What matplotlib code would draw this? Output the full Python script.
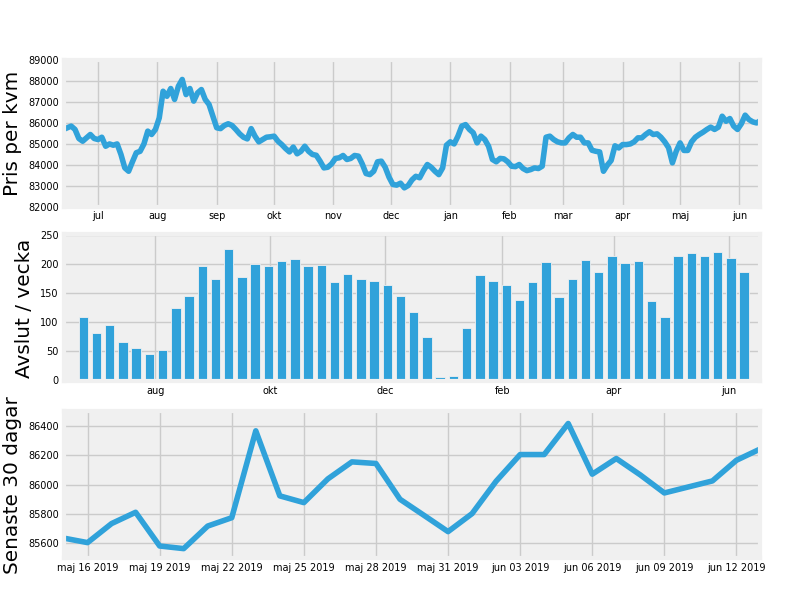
import matplotlib
matplotlib.use("Agg")
import matplotlib.pyplot as plt
import matplotlib.dates as mdates
from matplotlib.ticker import FuncFormatter
import pandas as pd

# Svenska månadsnamn för axlarna
SV_MONTHS = ["jan", "feb", "mar", "apr", "maj", "jun",
             "jul", "aug", "sep", "okt", "nov", "dec"]

# Pris per kvm, var annan dag från 2018-06-13
price_start = "2018-06-13"
price_values = [
    85670, 85750, 85830, 85670, 85240, 85110, 85270, 85430, 85240, 85190,
    85300, 84870, 84980, 84920, 84980, 84480, 83840, 83680, 84130, 84560,
    84630, 84980, 85590, 85430, 85670, 86220, 87490, 87250, 87620, 87100,
    87730,
    88050, 87330, 87620, 87020, 87410, 87570, 87100, 86860, 86300, 85750,
    85710, 85860, 85940, 85860, 85670, 85460, 85300, 85220, 85710, 85350,
    85080, 85190, 85300, 85320, 85350, 85110, 84950, 84760, 84600, 84830,
    84510,
    84630, 84870, 84630, 84480, 84440, 84160, 83840, 83870, 84030, 84290,
    84320, 84430, 84240, 84290, 84430, 84400, 84030, 83570, 83520, 83680,
    84130, 84160, 83870, 83400, 83050, 83020, 83110, 82890, 83000, 83270,
    83440,
    83370, 83710, 84000, 83870, 83680, 83520, 83840, 84920, 85080, 84980,
    85350, 85830, 85900, 85670, 85510, 85030, 85350, 85190, 84870, 84240,
    84130, 84290, 84270, 84130, 83920, 83900, 84000, 83810, 83710, 83760,
    83840, 83810, 83920, 85300, 85350, 85190, 85080, 85030, 85030, 85270,
    85430, 85300, 85300, 85030, 85030, 84680, 84630, 84600, 83680, 83970,
    84190, 84890, 84790, 84950, 84950, 84980, 85080, 85270, 85270, 85430,
    85560,
    85430, 85460, 85300, 85080, 84800, 84080, 84630, 85030, 84670, 84670,
    85080, 85300, 85430, 85540, 85670, 85780, 85670, 85780, 86300, 86060,
    86190, 85830, 85670, 85940, 86350, 86140, 86030, 85980, 86100,
]

# Avslut per vecka (veckoslut söndag) från 2018-06-24
week_start = "2018-06-24"
week_counts = [
    108, 80, 95, 65, 55, 44, 52, 124, 144, 197,
    173, 225, 178, 200, 196, 205, 208, 196, 198, 168,
    182, 173, 171, 163, 144, 117, 74, 5, 7, 90,
    180, 171, 163, 138, 168, 203, 142, 173, 207, 185,
    213, 201, 205, 135, 109, 213, 219, 214, 220, 210, 185,
]

# Senaste 30 dagar, daglig
last30_start = "2019-05-15"
last30_values = [
    85636, 85605, 85735, 85812, 85582, 85564, 85718, 85775, 86368, 85924,
    85878, 86040, 86156, 86145, 85901, 85791, 85680, 85803, 86024, 86206,
    86206, 86418, 86072, 86179, 86067, 85944, 85985, 86026, 86167, 86245,
]

BLUE = "#30a2da"


def month_fmt(x, pos=None):
    return SV_MONTHS[mdates.num2date(x).month - 1]


def day_fmt(x, pos=None):
    d = mdates.num2date(x)
    return f"{SV_MONTHS[d.month - 1]} {d.day:02d} {d.year}"


plt.style.use("fivethirtyeight")
plt.rcParams["font.family"] = ["DejaVu Sans"]

fig = plt.figure(figsize=(8, 6), dpi=100, facecolor="white")
ax1 = fig.add_axes([0.0794, 0.6558, 0.8712, 0.245])
ax2 = fig.add_axes([0.0794, 0.3642, 0.8712, 0.245])
ax3 = fig.add_axes([0.0794, 0.07, 0.8712, 0.2442])

# --- pris per kvm
p_dates = pd.date_range(price_start, periods=len(price_values), freq="2D")
ax1.plot(p_dates, price_values, color=BLUE, linewidth=4)
ax1.set_xlim(p_dates[0], p_dates[-1])
ax1.set_ylim(82000, 89000)
ax1.set_yticks(range(82000, 89001, 1000))
ax1.xaxis.set_major_locator(mdates.MonthLocator())
ax1.xaxis.set_major_formatter(FuncFormatter(month_fmt))
ax1.set_ylabel("Pris per kvm", fontsize=14.4)

# --- avslut per vecka
w_dates = pd.date_range(week_start, periods=len(week_counts), freq="7D")
ax2.bar(w_dates, week_counts, width=5, color=BLUE,
        edgecolor="#f0f0f0", linewidth=0.6)
ax2.set_xlim(pd.Timestamp("2018-06-13 12:00"), pd.Timestamp("2019-06-17 16:00"))
ax2.set_ylim(-3, 250.5)
ax2.set_yticks(range(0, 251, 50))
ax2.xaxis.set_major_locator(mdates.MonthLocator(bymonth=[2, 4, 6, 8, 10, 12]))
ax2.xaxis.set_major_formatter(FuncFormatter(month_fmt))
ax2.set_ylabel("Avslut / vecka", fontsize=14.4)

# --- senaste 30 dagar
d_dates = pd.date_range(last30_start, periods=len(last30_values), freq="D")
ax3.plot(d_dates, last30_values, color=BLUE, linewidth=4)
ax3.set_xlim(d_dates[0], d_dates[-1])
ax3.set_ylim(85500, 86500)
ax3.set_yticks(range(85600, 86401, 200))
ax3.set_xticks(d_dates[1::3])
ax3.xaxis.set_major_formatter(FuncFormatter(day_fmt))
ax3.set_ylabel("Senaste 30 dagar", fontsize=14.4)

for ax in (ax1, ax2, ax3):
    ax.tick_params(labelsize=7)
    ax.grid(True, color="#cbcbcb", linewidth=1)

fig.savefig("out.png", dpi=100, facecolor="white")
